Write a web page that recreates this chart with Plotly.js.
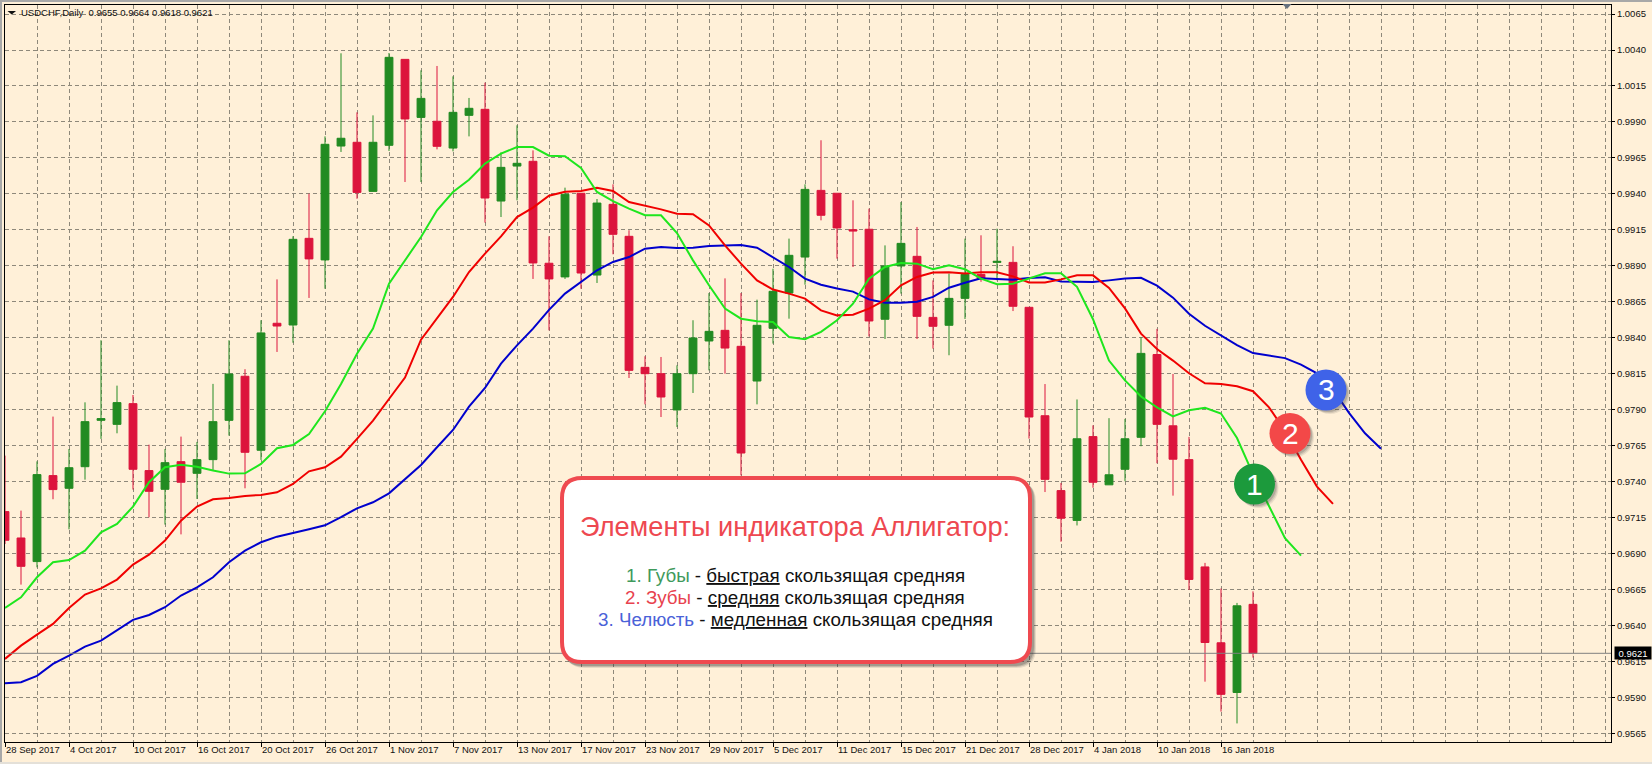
<!DOCTYPE html>
<html>
<head>
<meta charset="utf-8">
<script src="https://cdn.plot.ly/plotly-3.0.1.min.js"></script>
<style>html,body{margin:0;padding:0;background:#fff;overflow:hidden}#chart{position:absolute;left:0;top:0;width:1652px;height:764px}</style>
</head>
<body>
<div id="chart"></div>
<script>
var tickIndex = [0,4,8,12,16,20,24,28,32,36,40,44,48,52,56,60,64,68,72,76];
var tickDates = ["28 Sep 2017","4 Oct 2017","10 Oct 2017","16 Oct 2017","20 Oct 2017","26 Oct 2017","1 Nov 2017","7 Nov 2017","13 Nov 2017","17 Nov 2017","23 Nov 2017","29 Nov 2017","5 Dec 2017","11 Dec 2017","15 Dec 2017","21 Dec 2017","28 Dec 2017","4 Jan 2018","10 Jan 2018","16 Jan 2018"];

var opens = [.97194,.97011,.96847,.97444,.97356,.97506,.97828,.97800,.97944,.97479,.97349,.97541,.97460,.97555,.97828,.98134,.97620,.98502,.98490,.99092,.98942,.99733,.99759,.99418,.99738,1.00335,.99932,.99905,.99719,.99946,.99988,.99351,.99594,.99627,.98919,.98824,.99405,.98837,.99328,.99106,.98196,.98152,.97900,.98152,.98379,.98453,.98342,.98101,.98467,.98712,.98962,.99425,.99405,.99152,.99155,.98530,.98900,.98967,.98543,.98488,.98675,.98842,.98925,.98925,.98613,.97860,.97340,.97133,.97715,.97380,.97488,.97710,.98285,.97790,.97555,.96810,.96283,.95938,.9655];
var highs = [.97583,.97201,.97543,.97854,.97629,.97953,.98384,.98069,.98004,.97659,.97629,.97715,.97678,.98081,.98384,.98183,.98523,.98807,.99106,.99402,.99800,1.00377,.99967,.99946,1.00379,1.00335,1.00259,1.00289,1.00217,1.00067,1.00173,.99689,.99877,.99703,.99106,.99444,.99405,.99365,.99467,.99148,.98273,.98268,.98210,.98523,.98712,.98814,.98712,.98666,.98881,.99090,.99467,.99773,.99405,.99356,.99298,.99043,.99344,.99171,.98800,.98847,.99090,.99113,.99159,.99037,.98613,.98080,.97393,.97973,.97793,.97843,.97838,.98405,.98463,.9815,.97713,.96838,.96660,.96560,.9664];
var lows = [.96969,.96687,.96807,.97280,.97071,.97416,.97699,.97738,.97347,.97155,.97104,.97036,.97282,.97483,.97722,.97356,.97553,.98303,.98367,.98678,.98742,.99692,.99367,.99418,.99699,.99483,.99483,.99710,.99696,.99800,.99201,.99240,.99356,.98810,.98453,.98810,.98742,.98782,.98981,.98122,.97939,.97851,.97782,.98018,.98175,.98152,.97446,.97939,.98361,.98534,.98770,.99217,.98951,.98893,.98411,.98393,.98708,.98393,.98326,.98280,.98532,.98790,.98800,.98587,.97701,.97330,.96985,.97098,.97360,.97380,.97405,.97648,.97530,.97305,.9665,.96013,.95805,.95723,.9618];
var closes = [.96995,.96814,.97451,.97347,.97499,.97819,.97840,.97951,.97488,.97335,.97534,.97398,.97555,.97819,.98150,.97606,.98435,.98483,.99085,.98949,.99745,.99787,.99411,.99759,1.00349,.99921,1.00064,.99731,.99967,.99995,.99372,.99585,.99613,.98921,.98810,.99398,.98851,.99337,.99120,.98175,.98152,.97990,.98152,.98400,.98446,.98330,.97601,.98488,.98724,.98974,.99432,.99252,.99164,.99143,.98518,.98900,.99057,.98550,.98481,.98675,.98842,.98812,.98932,.98620,.97851,.97418,.97148,.97700,.97398,.97450,.97700,.98293,.97800,.97558,.96723,.96285,.95925,.96540,.9621];

var lips = [.96525,.96599,.96738,.96842,.96858,.96923,.97050,.97108,.97229,.97398,.97502,.97520,.97506,.97479,.97458,.97460,.97525,.97634,.97657,.97733,.97891,.98080,.98291,.98465,.98777,.98939,.99101,.99287,.99414,.99499,.99611,.99680,.99726,.99726,.99666,.99662,.99581,.99414,.99351,.99298,.99252,.99252,.99129,.98939,.98766,.98604,.98534,.98516,.98511,.98407,.98391,.98442,.98523,.98638,.98812,.98893,.98921,.98916,.98877,.98905,.98877,.98812,.98773,.98777,.98814,.98849,.98849,.98755,.98530,.98243,.98105,.97993,.97918,.97855,.97898,.97915,.97875,.97705,.97455,.97230,.97010,.96888];
var teeth = [.96171,.96263,.96340,.96414,.96525,.96618,.96661,.96722,.96826,.96895,.96993,.97131,.97229,.97280,.97289,.97303,.97310,.97328,.97386,.97474,.97502,.97576,.97699,.97826,.97976,.98125,.98388,.98534,.98685,.98858,.98986,.99106,.99240,.99305,.99388,.99416,.99421,.99444,.99421,.99344,.99319,.99293,.99263,.99259,.99182,.99043,.98916,.98800,.98736,.98708,.98673,.98592,.98557,.98562,.98604,.98662,.98766,.98824,.98854,.98856,.98847,.98856,.98856,.98828,.98786,.98786,.98807,.98835,.98835,.98748,.98605,.98430,.98323,.98243,.98155,.98085,.98080,.98065,.98030,.97918,.97755,.97555,.97368,.97248];
var jaw = [.96002,.96009,.96053,.96136,.96194,.96256,.96298,.96367,.96442,.96476,.96530,.96611,.96668,.96738,.96842,.96923,.96981,.97020,.97043,.97071,.97099,.97155,.97217,.97259,.97321,.97421,.97518,.97641,.97761,.97923,.98053,.98222,.98349,.98465,.98595,.98708,.98789,.98870,.98928,.98962,.99020,.99032,.99025,.99027,.99039,.99041,.99046,.99027,.98962,.98893,.98812,.98770,.98743,.98722,.98668,.98645,.98645,.98652,.98685,.98749,.98784,.98814,.98810,.98805,.98817,.98821,.98793,.98788,.98788,.98800,.98813,.98818,.98763,.98680,.98568,.98485,.98418,.98350,.98295,.98275,.98260,.98215,.98155,.98043,.97880,.97738,.97630];

var lastPrice = 0.9621;
var headerText = "USDCHF,Daily  0.9655 0.9664 0.9618 0.9621";
var calloutTitle = "Элементы индикатора Аллигатор:";
var calloutLines = [
  '<span style="color:#3F9A5C">1. Губы</span> - <u>быстрая</u> скользящая средняя',
  '<span style="color:#E8424E">2. Зубы</span> - <u>средняя</u> скользящая средняя',
  '<span style="color:#4A62D8">3. Челюсть</span> - <u>медленная</u> скользящая средняя'
];

function seq(a){ return a.map(function(_,i){return i;}); }

var W=1652,H=764,L=5,R=1611,T=5,B=742;
function px(x){ return (x-L)/(R-L); }
function py(y){ return 1-(y-T)/(B-T); }
var CREAM='#FFF0D8', AXISFONT='"Liberation Sans",Arial,sans-serif', GRID='#8E887A';

var traces = [
 {type:'candlestick',x:seq(opens),open:opens,high:highs,low:lows,close:closes,whiskerwidth:0,hoverinfo:'skip',showlegend:false,
  increasing:{line:{color:'#228B22',width:1},fillcolor:'#228B22'},
  decreasing:{line:{color:'#DC143C',width:1},fillcolor:'#DC143C'}},
 {type:'scatter',mode:'lines',x:seq(jaw),y:jaw,line:{color:'#0000CD',width:2},hoverinfo:'skip',showlegend:false},
 {type:'scatter',mode:'lines',x:seq(teeth),y:teeth,line:{color:'#F00000',width:2},hoverinfo:'skip',showlegend:false},
 {type:'scatter',mode:'lines',x:seq(lips),y:lips,line:{color:'#1EE61E',width:2},hoverinfo:'skip',showlegend:false}
];

var shapes=[], annotations=[];
// window frame
function rectPx(x0,y0,x1,y1,fill){ return {type:'rect',xref:'paper',yref:'paper',x0:px(x0),x1:px(x1),y0:py(y0),y1:py(y1),fillcolor:fill,line:{width:0},layer:'below'}; }
shapes.push(rectPx(0,0,W,2,'#A8A8A8'));
shapes.push(rectPx(0,0,2,H,'#A8A8A8'));
shapes.push(rectPx(0,762,W,H,'#E4E0D8'));
// last price line
shapes.push({type:'line',xref:'paper',yref:'y',x0:0,x1:1,y0:lastPrice,y1:lastPrice,line:{color:'#808080',width:1},layer:'above'});

function tri(x0,x1,y0,y1,color){
 return {type:'path',xref:'paper',yref:'paper',path:'M'+px(x0)+','+py(y0)+' L'+px(x1)+','+py(y0)+' L'+px((x0+x1)/2)+','+py(y1)+' Z',fillcolor:color,line:{width:0},layer:'above'};
}
shapes.push(tri(1282.5,1291.5,4,9,'#66717E'));
shapes.push(tri(7.5,16,11,14.5,'#111111'));

function roundRect(x0,y0,x1,y1,r){
 var a=px,b=py;
 return 'M'+a(x0+r)+','+b(y0)+' L'+a(x1-r)+','+b(y0)+' Q'+a(x1)+','+b(y0)+' '+a(x1)+','+b(y0+r)+
  ' L'+a(x1)+','+b(y1-r)+' Q'+a(x1)+','+b(y1)+' '+a(x1-r)+','+b(y1)+' L'+a(x0+r)+','+b(y1)+
  ' Q'+a(x0)+','+b(y1)+' '+a(x0)+','+b(y1-r)+' L'+a(x0)+','+b(y0+r)+' Q'+a(x0)+','+b(y0)+' '+a(x0+r)+','+b(y0)+' Z';
}
// callout shadow + box
[[5,.12],[4,.2],[3,.25]].forEach(function(s){
 shapes.push({type:'path',xref:'paper',yref:'paper',path:roundRect(561+s[0]-1,477+s[0],1032+s[0]-1,663+s[0],20),fillcolor:'rgba(60,60,60,'+s[1]+')',line:{width:0},layer:'above'});
});
shapes.push({type:'path',xref:'paper',yref:'paper',path:roundRect(562,478,1030,662,20),fillcolor:'#FFFFFF',line:{color:'#EF4A50',width:4},layer:'above'});

function badge(cx,cy,color,label){
 [[4,.1],[3,.15],[2,.2]].forEach(function(s){
  shapes.push({type:'circle',xref:'paper',yref:'paper',x0:px(cx-20+s[0]),x1:px(cx+20+s[0]),y0:py(cy-20+s[0]),y1:py(cy+20+s[0]),fillcolor:'rgba(60,60,60,'+s[1]+')',line:{width:0},layer:'above'});
 });
 shapes.push({type:'circle',xref:'paper',yref:'paper',x0:px(cx-20.5),x1:px(cx+20.5),y0:py(cy-20.5),y1:py(cy+20.5),fillcolor:color,line:{width:0},layer:'above'});
 annotations.push({xref:'paper',yref:'paper',x:px(cx),y:py(cy),text:label,showarrow:false,xanchor:'center',yanchor:'middle',font:{family:AXISFONT,size:30,color:'#FFFFFF'}});
}
badge(1254.5,484,'#1C9A3C','1');
badge(1290,433.5,'#F34848','2');
badge(1326,390,'#3F63E8','3');

annotations.push({xref:'paper',yref:'paper',x:px(795),y:py(526),text:calloutTitle,showarrow:false,xanchor:'center',yanchor:'middle',font:{family:AXISFONT,size:27.2,color:'#EE4850'}});
[575,597,619].forEach(function(yy,i){
 annotations.push({xref:'paper',yref:'paper',x:px(795),y:py(yy),text:calloutLines[i],showarrow:false,xanchor:'center',yanchor:'middle',font:{family:AXISFONT,size:18.8,color:'#111111'}});
});
// header
annotations.push({xref:'paper',yref:'paper',x:px(18.5),y:py(12.5),text:headerText,showarrow:false,xanchor:'left',yanchor:'middle',font:{family:AXISFONT,size:9.5,color:'#111'}});
// last price label
annotations.push({xref:'paper',yref:'y',x:1,xshift:3,y:lastPrice,text:'0.9621',showarrow:false,xanchor:'left',yanchor:'middle',bgcolor:'#000',font:{family:AXISFONT,size:9.5,color:'#fff'},borderpad:0.5,width:35,align:'center'});

var layout = {
 width:W,height:H,
 margin:{l:L,r:W-R,t:T,b:H-B,pad:0},
 paper_bgcolor:CREAM,plot_bgcolor:CREAM,
 showlegend:false,
 dragmode:false,
 boxgap:0.3,
 xaxis:{range:[0,100.375],tickmode:'array',tickvals:tickIndex,ticktext:tickDates,ticks:'outside',ticklen:4,tickcolor:'#000',tickwidth:1,
  ticklabelposition:'outside right',ticklabelstandoff:-1,
  showgrid:false,zeroline:false,showline:true,linecolor:'#000',linewidth:1,mirror:true,rangeslider:{visible:false},
  tickfont:{family:AXISFONT,size:9.5,color:'#111'},fixedrange:true},
 xaxis2:{overlaying:'x',range:[0,100.375],tickmode:'linear',tick0:0,dtick:2,showgrid:true,griddash:'4px,3px',gridcolor:GRID,gridwidth:1,showticklabels:false,ticks:'',zeroline:false,showline:false,fixedrange:true},
 yaxis:{side:'right',range:[0.95594,1.007125],tickmode:'linear',tick0:0.9565,dtick:0.0025,tickformat:'.4f',ticks:'outside',ticklen:3,tickcolor:'#000',tickwidth:1,
  showgrid:true,griddash:'4px,3px',gridcolor:GRID,gridwidth:1,zeroline:false,showline:true,linecolor:'#000',linewidth:1,mirror:true,
  tickfont:{family:AXISFONT,size:9.5,color:'#111'},fixedrange:true},
 shapes:shapes,annotations:annotations
};
// invisible carrier so the vertical grid axis is drawn
traces.unshift({type:'scatter',mode:'lines',x:[0],y:[1],xaxis:'x2',yaxis:'y',line:{width:0},hoverinfo:'skip',showlegend:false});
Plotly.newPlot('chart',traces,layout,{displayModeBar:false,staticPlot:true});
</script>
</body>
</html>
